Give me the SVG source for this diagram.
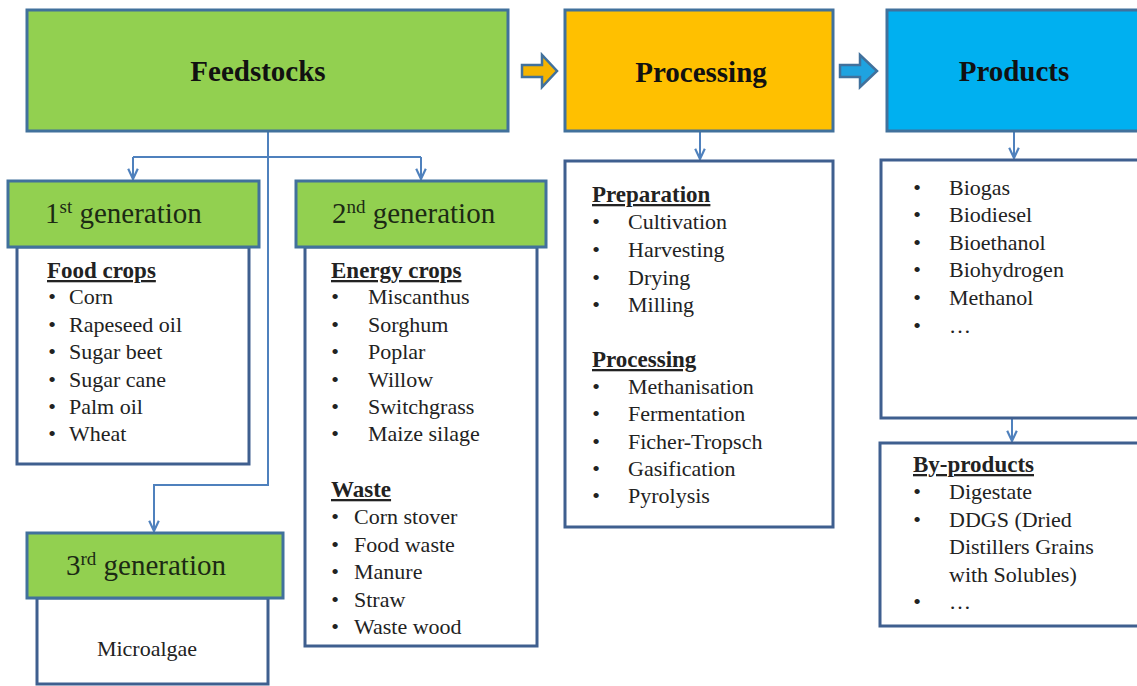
<svg xmlns="http://www.w3.org/2000/svg" width="1137" height="686" viewBox="0 0 1137 686">
<style>
.hdr{stroke:#41719c;stroke-width:3}
.green{fill:#92d050}
.orange{fill:#ffc000}
.blue{fill:#00b0f0}
.box{fill:#ffffff;stroke:#3f5f8f;stroke-width:3}
text{font-family:"Liberation Serif","Times New Roman",serif;fill:#222222;font-size:22px}
.h{font-weight:bold;font-size:29px;text-anchor:middle;fill:#111111}
.g{font-size:29px;fill:#1c2a14}
.sup{font-size:19px}
.sub{font-weight:bold;text-decoration:underline;font-size:23px}
.b{text-anchor:middle}
.conn{stroke:#4f81bd;stroke-width:2;fill:none}
.blk{stroke:#41719c;stroke-width:2.5;stroke-linejoin:miter}
</style>
<defs>
<marker id="arr" viewBox="0 0 10 10" refX="9.5" refY="5" markerWidth="12" markerHeight="12" markerUnits="userSpaceOnUse" orient="auto">
<path d="M1,1 L9.5,5 L1,9" fill="none" stroke="#4f81bd" stroke-width="1.8"/>
</marker>
</defs>
<rect width="1137" height="686" fill="#ffffff"/>

<g id="connectors">
<path class="conn" d="M268,131 V485 H154 V531" marker-end="url(#arr)"/>
<path class="conn" d="M133,157 H421"/>
<path class="conn" d="M133,157 V179" marker-end="url(#arr)"/>
<path class="conn" d="M421,157 V179" marker-end="url(#arr)"/>
<path class="conn" d="M700,131 V159" marker-end="url(#arr)"/>
<path class="conn" d="M1014,131 V158" marker-end="url(#arr)"/>
<path class="conn" d="M1012,418 V441" marker-end="url(#arr)"/>
<path class="blk" fill="#f5b400" d="M522,65 H542 V55 L557,71 L542,87 V77 H522 Z"/>
<path class="blk" fill="#1fa3e0" d="M840,65 H860 V55 L877,71 L860,87 V77 H840 Z"/>
</g>

<g id="feedstocks">
<rect class="hdr green" x="27" y="10" width="481" height="121"/>
<text class="h" x="258" y="81">Feedstocks</text>
</g>

<g id="processing">
<rect class="hdr orange" x="565" y="10" width="268" height="121"/>
<text class="h" x="701" y="82">Processing</text>
</g>

<g id="products">
<rect class="hdr blue" x="887" y="10" width="260" height="121"/>
<text class="h" x="1014" y="81">Products</text>
</g>

<g id="gen1-list">
<rect class="box" x="17" y="247" width="232" height="217"/>
<text class="sub" x="47" y="278">Food crops</text>
<text class="b" x="52" y="304">•</text><text x="69" y="304">Corn</text>
<text class="b" x="52" y="332">•</text><text x="69" y="332">Rapeseed oil</text>
<text class="b" x="52" y="359">•</text><text x="69" y="359">Sugar beet</text>
<text class="b" x="52" y="387">•</text><text x="69" y="387">Sugar cane</text>
<text class="b" x="52" y="414">•</text><text x="69" y="414">Palm oil</text>
<text class="b" x="52" y="441">•</text><text x="69" y="441">Wheat</text>
</g>

<g id="gen1">
<rect class="hdr green" x="8" y="181" width="251" height="66"/>
<text class="g" x="45" y="223">1<tspan class="sup" dy="-10">st</tspan><tspan dy="10"> generation</tspan></text>
</g>

<g id="gen2-list">
<rect class="box" x="305" y="247" width="232" height="399"/>
<text class="sub" x="331" y="278">Energy crops</text>
<text class="b" x="335" y="304">•</text><text x="368" y="304">Miscanthus</text>
<text class="b" x="335" y="332">•</text><text x="368" y="332">Sorghum</text>
<text class="b" x="335" y="359">•</text><text x="368" y="359">Poplar</text>
<text class="b" x="335" y="387">•</text><text x="368" y="387">Willow</text>
<text class="b" x="335" y="414">•</text><text x="368" y="414">Switchgrass</text>
<text class="b" x="335" y="441">•</text><text x="368" y="441">Maize  silage</text>
<text class="sub" x="331" y="497">Waste</text>
<text class="b" x="335" y="524">•</text><text x="354" y="524">Corn stover</text>
<text class="b" x="335" y="552">•</text><text x="354" y="552">Food waste</text>
<text class="b" x="335" y="579">•</text><text x="354" y="579">Manure</text>
<text class="b" x="335" y="607">•</text><text x="354" y="607">Straw</text>
<text class="b" x="335" y="634">•</text><text x="354" y="634">Waste wood</text>
</g>

<g id="gen2">
<rect class="hdr green" x="296" y="181" width="250" height="66"/>
<text class="g" x="332" y="223">2<tspan class="sup" dy="-10">nd</tspan><tspan dy="10"> generation</tspan></text>
</g>

<g id="gen3-list">
<rect class="box" x="37" y="598" width="231" height="86"/>
<text class="b" x="147" y="656">Microalgae</text>
</g>

<g id="gen3">
<rect class="hdr green" x="27" y="533" width="256" height="65"/>
<text class="g" x="66" y="575">3<tspan class="sup" dy="-10">rd</tspan><tspan dy="10"> generation</tspan></text>
</g>

<g id="processing-list">
<rect class="box" x="565" y="161" width="268" height="366"/>
<text class="sub" x="592" y="202">Preparation</text>
<text class="b" x="596" y="229">•</text><text x="628" y="229">Cultivation</text>
<text class="b" x="596" y="257">•</text><text x="628" y="257">Harvesting</text>
<text class="b" x="596" y="285">•</text><text x="628" y="285">Drying</text>
<text class="b" x="596" y="312">•</text><text x="628" y="312">Milling</text>
<text class="sub" x="592" y="367">Processing</text>
<text class="b" x="596" y="394">•</text><text x="628" y="394">Methanisation</text>
<text class="b" x="596" y="421">•</text><text x="628" y="421">Fermentation</text>
<text class="b" x="596" y="449">•</text><text x="628" y="449">Ficher-Tropsch</text>
<text class="b" x="596" y="476">•</text><text x="628" y="476">Gasification</text>
<text class="b" x="596" y="503">•</text><text x="628" y="503">Pyrolysis</text>
</g>

<g id="products-list">
<rect class="box" x="881" y="160" width="270" height="258"/>
<text class="b" x="917" y="195">•</text><text x="949" y="195">Biogas</text>
<text class="b" x="917" y="222">•</text><text x="949" y="222">Biodiesel</text>
<text class="b" x="917" y="250">•</text><text x="949" y="250">Bioethanol</text>
<text class="b" x="917" y="277">•</text><text x="949" y="277">Biohydrogen</text>
<text class="b" x="917" y="305">•</text><text x="949" y="305">Methanol</text>
<text class="b" x="917" y="333">•</text><text x="949" y="333">…</text>
</g>

<g id="by-products">
<rect class="box" x="880" y="443" width="270" height="183"/>
<text class="sub" x="913" y="472">By-products</text>
<text class="b" x="917" y="499">•</text><text x="949" y="499">Digestate</text>
<text class="b" x="917" y="527">•</text><text x="949" y="527">DDGS (Dried</text>
<text x="949" y="554">Distillers  Grains</text>
<text x="949" y="582">with  Solubles)</text>
<text class="b" x="917" y="609">•</text><text x="949" y="609">…</text>
</g>
</svg>
